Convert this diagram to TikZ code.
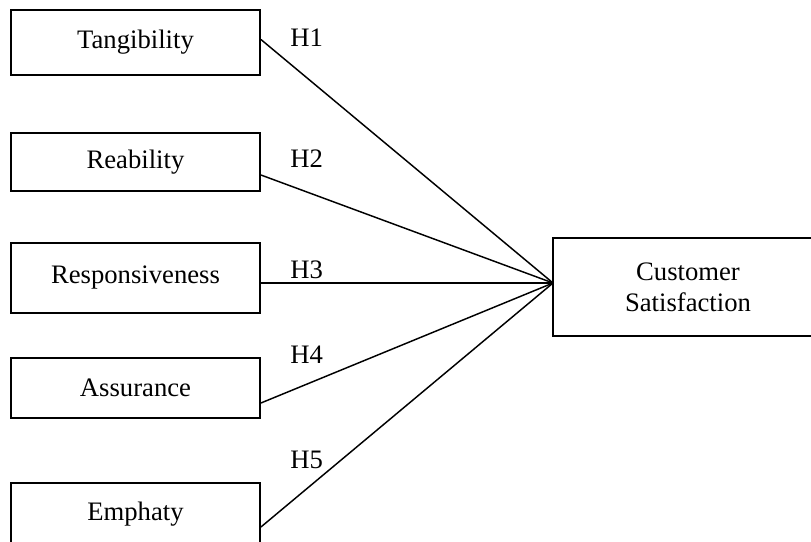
\documentclass[tikz,border=0pt]{standalone}
\usepackage{fontspec}
\setmainfont{Liberation Serif}
\usetikzlibrary{positioning,calc}
\newcommand{\myTextSize}{\fontsize{20}{23.3}\selectfont}

\begin{document}
\begin{tikzpicture}[x=0.75pt,y=-0.75pt,
	Link/.style={-,black,line width=1.1pt},
	Factor/.style={rectangle,fill=white,draw=black,line width=1.4pt,font=\myTextSize,minimum width=186.75pt,inner sep=0pt},
	Outcome/.style={rectangle,fill=white,draw=black,line width=1.4pt,font=\myTextSize,align=center,minimum width=202.5pt,minimum height=73.5pt,inner sep=0pt},
	Hypo/.style={font=\myTextSize,anchor=west,inner sep=0pt},
]
	\useasboundingbox (0,0) rectangle (811,542);
	%\draw[help lines,step=50,gray!20] (0,0) grid (811,542);
	\node[Factor,minimum height=48.75pt] (tang) at (135.5,42.5) {Tangibility};
	\node[Factor,minimum height=43.5pt] (reab) at (135.5,162) {Reability};
	\node[Factor,minimum height=52.5pt] (resp) at (135.5,278) {Responsiveness};
	\node[Factor,minimum height=45pt] (assu) at (135.5,388) {Assurance};
	\node[Factor,minimum height=46.5pt] (emph) at (135.5,514) {Emphaty};
	\node[Outcome] (cs) at (688,287) {Customer\\Satisfaction};
	\coordinate (hub) at (553,283);

	\node[Hypo] (h1) at (290,38) {H1};
	\node[Hypo] (h2) at (290,159) {H2};
	\node[Hypo] (h3) at (290,270) {H3};
	\node[Hypo] (h4) at (290,355) {H4};
	\node[Hypo] (h5) at (290,460) {H5};

	\path[Link]
	($(tang.east)+(0,-3)$) edge (hub)
	($(reab.east)+(0,13)$) edge (hub)
	($(resp.east)+(0,5)$) edge (hub)
	($(assu.east)+(0,15)$) edge (hub)
	($(emph.east)+(0,13)$) edge (hub)
	;
\end{tikzpicture}
\end{document}
